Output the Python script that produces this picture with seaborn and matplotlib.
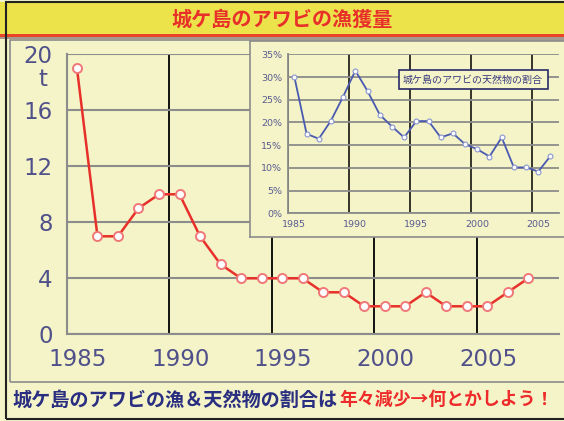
import matplotlib
matplotlib.use("Agg")
import matplotlib.pyplot as plt
import matplotlib.ticker as ticker
import matplotlib.transforms as mtrans
from matplotlib.patches import Rectangle
import seaborn as sns

# catch of abalone (t), one value per year
catch_years = list(range(1985, 2008))
catch_tons = [19, 7, 7, 9, 10, 10, 7, 5, 4, 4, 4, 4, 3, 3, 2, 2, 2, 3, 2, 2, 2, 3, 4]

# share of wild abalone in the catch (fraction)
share_years = list(range(1985, 2007))
share_wild = [0.300, 0.175, 0.164, 0.204, 0.257, 0.314, 0.269, 0.217, 0.191, 0.167,
              0.203, 0.203, 0.167, 0.176, 0.152, 0.141, 0.125, 0.167, 0.101, 0.101,
              0.092, 0.126]

main_xticks = [1985, 1990, 1995, 2000, 2005]
main_yticks = [0, 4, 8, 12, 16, 20]
inset_yticks = [0, 0.05, 0.10, 0.15, 0.20, 0.25, 0.30, 0.35]

title_text = "城ケ島のアワビの漁獲量"
inset_label = "城ケ島のアワビの天然物の割合"
note_blue = "城ケ島のアワビの漁＆天然物の割合は"
note_red = "年々減少→何とかしよう！"

BG = "#F4F4C8"
GRID = "#8C8C8C"
NUM = "#50508A"
W, H = 564, 421
FONTS = ["Noto Sans CJK JP", "DejaVu Sans"]

sns.set_style("white")
plt.rcParams["font.family"] = FONTS


def box(x0, y0, x1, y1):
    # pixel box (top-left origin) -> figure fraction rect
    return [x0 / W, 1 - y1 / H, (x1 - x0) / W, (y1 - y0) / H]


def shift_xlabels(a, px):
    # excel puts the year labels a bit right of their ticks
    off = mtrans.ScaledTranslation(px / 100, 0, fig.dpi_scale_trans)
    for lab in a.get_xticklabels():
        lab.set_transform(lab.get_transform() + off)


fig = plt.figure(figsize=(W / 100, H / 100), dpi=100)
fig.patch.set_facecolor(BG)

# title band
for (y0, y1, col) in [(2, 34, "#ECE24A"), (34, 37, "#E8442A"), (37, 39, "#A8988A")]:
    r = box(0, y0, W, y1)
    fig.add_artist(Rectangle((r[0], r[1]), r[2], r[3], transform=fig.transFigure,
                             facecolor=col, edgecolor="none", zorder=-5))
fig.text(0.5, 1 - 19 / H, title_text, color="#E8302A", fontsize=14.5,
         fontweight="bold", ha="center", va="center")

# outer frame and inner chart box
r = box(6, 2, W + 10, 419)
fig.add_artist(Rectangle((r[0], r[1]), r[2], r[3], transform=fig.transFigure,
                         facecolor="none", edgecolor="#222222", lw=1.5, zorder=-4))
r = box(10, 40, W + 10, 382)
fig.add_artist(Rectangle((r[0], r[1]), r[2], r[3], transform=fig.transFigure,
                         facecolor="none", edgecolor=GRID, lw=1.2, zorder=-4))

# ---- main chart
ax = fig.add_axes(box(66.7, 54.3, 559, 334.3))
ax.set_facecolor("none")
ax.set_axisbelow(True)
sns.lineplot(x=[y + 0.5 for y in catch_years], y=catch_tons, ax=ax,
             color="#E8302A", lw=1.8, marker="o", markersize=6.5,
             markerfacecolor="white", markeredgecolor="#F07878",
             markeredgewidth=1.4)
ax.set_xlim(1985, 2009)
ax.set_ylim(0, 20)
ax.set_xticks(main_xticks)
ax.set_yticks(main_yticks)
ax.yaxis.grid(True, color=GRID, lw=1.5)
ax.xaxis.grid(True, color="black", lw=1.3)
for s in ["top", "right"]:
    ax.spines[s].set_visible(False)
for s in ["left", "bottom"]:
    ax.spines[s].set_color(GRID)
    ax.spines[s].set_linewidth(1.5)
ax.tick_params(direction="out", length=4, width=1.2, color=GRID,
               labelcolor=NUM, labelsize=16.5, pad=6)
ax.tick_params(axis="x", pad=6)
for lab in ax.get_xticklabels() + ax.get_yticklabels():
    lab.set_family("DejaVu Sans")
shift_xlabels(ax, 11)
ax.set_xlabel("")
ax.set_ylabel("")
fig.text(43 / W, 1 - 79 / H, "t", color=NUM, fontsize=16.5,
         family="DejaVu Sans", ha="center", va="center")

# ---- inset panel
panel = fig.add_axes(box(250, 41, W + 10, 237), zorder=3)
panel.set_facecolor(BG)
panel.set_xticks([])
panel.set_yticks([])
for s in panel.spines.values():
    s.set_color(GRID)
    s.set_linewidth(1.2)

ax_in = fig.add_axes(box(288.3, 54.3, 559, 213.3), zorder=4)
ax_in.set_facecolor("none")
ax_in.set_axisbelow(True)
sns.lineplot(x=[y + 0.5 for y in share_years], y=share_wild, ax=ax_in,
             color="#4A5AB0", lw=1.3, marker="o", markersize=3.5,
             markerfacecolor="white", markeredgecolor="#8A96D0",
             markeredgewidth=0.8)
ax_in.set_xlim(1985, 2007.2)
ax_in.set_ylim(0, 0.35)
ax_in.set_xticks(main_xticks)
ax_in.set_yticks(inset_yticks)
ax_in.yaxis.set_major_formatter(ticker.FuncFormatter(lambda v, p: "%d%%" % round(v * 100)))
ax_in.yaxis.grid(True, color=GRID, lw=1.3)
ax_in.xaxis.grid(True, color="black", lw=1.1)
for s in ["top", "right"]:
    ax_in.spines[s].set_visible(False)
for s in ["left", "bottom"]:
    ax_in.spines[s].set_color(GRID)
    ax_in.spines[s].set_linewidth(1.3)
ax_in.tick_params(direction="out", length=2.5, width=1, color=GRID,
                  labelcolor="#5A5A92", labelsize=6.8, pad=2)
for lab in ax_in.get_xticklabels() + ax_in.get_yticklabels():
    lab.set_family("DejaVu Sans")
shift_xlabels(ax_in, 6)
ax_in.set_xlabel("")
ax_in.set_ylabel("")
ax_in.text(473 / W, 1 - 79.7 / H, inset_label, transform=fig.transFigure,
           fontsize=7.2, color="#3A3A80", ha="center", va="center", zorder=6,
           bbox=dict(boxstyle="square,pad=0.45", facecolor=BG,
                     edgecolor="#2A2A6A", lw=1.2))

# ---- bottom note, two colours on one line
t1 = fig.text(12 / W, 1 - 400 / H, note_blue, color="#2A2E80", fontsize=13.8,
              fontweight="bold", ha="left", va="center")
renderer = fig.canvas.get_renderer()
bb = t1.get_window_extent(renderer=renderer)
t2 = fig.text((bb.x1 + 2) / W, 1 - 400 / H, note_red, color="#EE2A2A", fontsize=13.8,
              fontweight="bold", ha="left", va="center")
# squeeze the red part so it ends where the reference ends (~553 px)
w2 = t2.get_window_extent(renderer=renderer).width
t2.set_fontsize(13.8 * min(1.0, (553 - bb.x1 - 2) / w2))

fig.savefig("out.png", dpi=100, facecolor=BG)
